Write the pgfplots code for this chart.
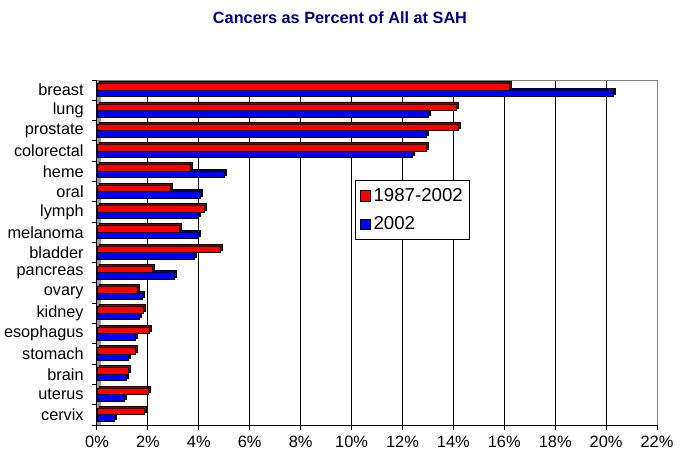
\documentclass[border=0pt]{standalone}
\usepackage{fontspec}
\setmainfont{Liberation Sans}
\usepackage{pgfplots}
\usepackage{pgfplotstable}
\pgfplotsset{compat=1.18}
\definecolor{barred}{RGB}{255,0,0}
\definecolor{barblue}{RGB}{0,0,255}
\definecolor{shred}{RGB}{128,0,0}
\definecolor{shblue}{RGB}{0,0,128}
\definecolor{titleblue}{RGB}{0,0,128}
\definecolor{wallgray}{RGB}{128,128,128}

\pgfplotstableread{
x y
16.2 0
14.1 1
14.2 2
12.95 3
3.68 4
2.9 5
4.2 6
3.22 7
4.83 8
2.16 9
1.57 10
1.82 11
2.04 12
1.49 13
1.22 14
2.0 15
1.85 16
}\redtable

\pgfplotstableread{
x y
20.3 0
13.0 1
12.95 2
12.4 3
5.0 4
4.07 5
4.0 6
4.0 7
3.82 8
3.03 9
1.77 10
1.68 11
1.5 12
1.23 13
1.14 14
1.06 15
0.67 16
}\bluetable

\begin{document}
\begin{tikzpicture}
\useasboundingbox (0pt,0pt) rectangle (511.5pt,348.75pt);
\node[font=\fontsize{12.2}{14}\selectfont\bfseries, text=titleblue] at (255pt,335.25pt) {Cancers as Percent of All at SAH};
\begin{axis}[
  at={(72.75pt,30pt)}, anchor=south west,
  scale only axis, width=420pt, height=258.75pt,
  xmin=0, xmax=22, ymin=-0.5, ymax=16.5, y dir=reverse,
  xbar, bar width=0.32,
  axis x line*=bottom, axis y line*=left,
  axis line style={-, black, line width=0.75pt},
  tick align=outside,
  xtick={0,2,...,22},
  /pgf/number format/assume math mode=true,
  xticklabel={\pgfmathprintnumber{\tick}\%},
  x tick label style={font=\fontsize{12.3}{14}\selectfont, yshift=-1pt},
  xtick style={black, line width=0.75pt},
  major tick length=3.5pt,
  ytick={-0.5,0.5,...,16.5},
  yticklabels={},
  ytick style={black, line width=0.75pt},
  extra y ticks={0,1,...,16},
  extra y tick labels={breast,lung,prostate,colorectal,heme,oral,lymph,melanoma,bladder,pancreas,ovary,kidney,esophagus,stomach,brain,uterus,cervix},
  extra y tick style={tick style={draw=none}, yticklabel style={font=\fontsize{12.2}{14}\selectfont, xshift=-3pt}},
  xmajorgrids, major x grid style={black, line width=0.75pt},
  legend style={at={(0.461,0.71)}, anchor=north west, draw=black, fill=white,
    font=\fontsize{14}{16}\selectfont, row sep=6pt, inner xsep=3pt, inner ysep=4pt, line width=0.75pt},
  legend cell align=left,
  legend image code/.code={\draw[#1,draw=black,line width=0.6pt] (0pt,-3.9pt) rectangle (7.8pt,3.9pt);},
  clip=false,
]
\fill[wallgray!80] (axis cs:0,-0.5) rectangle (axis cs:0.14,16.5);
\addplot[fill=shred, draw=black, line width=0.6pt, bar shift=-0.16, xshift=1.5pt, yshift=1.5pt, forget plot] table[x=x,y=y] {\redtable};
\addplot[fill=shblue, draw=black, line width=0.6pt, bar shift=0.16, xshift=1.5pt, yshift=1.5pt, forget plot] table[x=x,y=y] {\bluetable};
\addplot[fill=barred, draw=black, line width=0.6pt, bar shift=-0.16] table[x=x,y=y] {\redtable};
\addplot[fill=barblue, draw=black, line width=0.6pt, bar shift=0.16] table[x=x,y=y] {\bluetable};
\draw[wallgray, line width=0.75pt] (rel axis cs:0,1) -- (rel axis cs:1,1) -- (rel axis cs:1,0);
\legend{1987-2002,2002}
\end{axis}
\end{tikzpicture}
\end{document}
